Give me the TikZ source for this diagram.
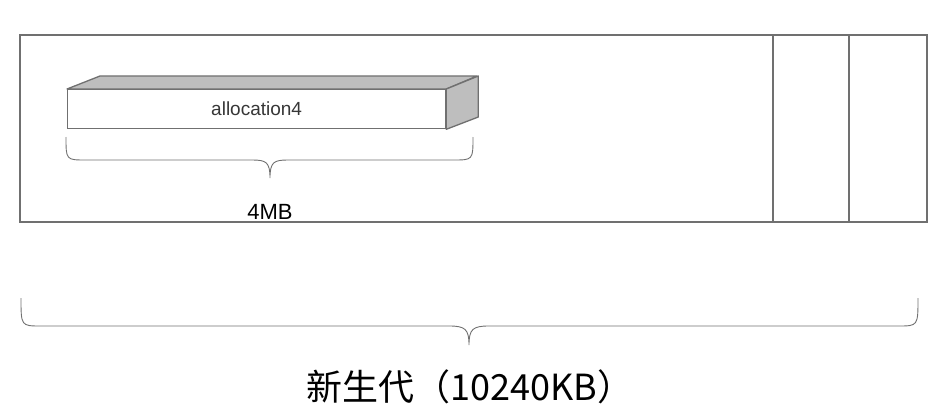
\documentclass[tikz,border=0pt]{standalone}
\usepackage{fontspec}
\setmainfont{Liberation Sans}
\newfontfamily\cjk{Noto Sans CJK SC}
\definecolor{linegray}{RGB}{112,112,112}
\definecolor{facegray}{RGB}{190,190,190}
\definecolor{txtgray}{RGB}{55,55,55}
\tikzset{
  frame/.style={draw=linegray, line width=1.5pt},
  facebox/.style={draw=linegray, line width=1.3pt, fill=facegray, line join=round},
  brace/.style={draw=linegray, line width=0.9pt},
}
\begin{document}
\begin{tikzpicture}[x=1pt,y=-1pt]
\useasboundingbox (0,0) rectangle (948,420);
% outer frame
\coordinate (tl) at (20,35);
\coordinate (br) at (927,222);
\draw[frame] (tl) rectangle (br);
\coordinate (d1t) at (773,35); \coordinate (d1b) at (773,222);
\coordinate (d2t) at (849,35); \coordinate (d2b) at (849,222);
\draw[frame] (d1t) -- (d1b);
\draw[frame] (d2t) -- (d2b);
% 3D box
\node[draw=linegray, line width=1.3pt, fill=white, minimum width=378pt, minimum height=39pt, inner sep=0pt, anchor=north west,
  text=txtgray, font=\fontsize{19}{22}\selectfont] (alloc) at (67,89) {allocation4};
\draw[facebox] (alloc.north west) -- ++(33,-13) -- ++(377,0) -- (alloc.north east) -- cycle;
\draw[facebox] (alloc.north east) -- ++(32,-13) -- ++(0,41) -- (alloc.south east) -- cycle;
% small brace
\draw[brace] (66,137) .. controls (66,160) and (66,160) .. (86,160) -- (252,160)
  .. controls (266,160) and (270,162) .. (270,178)
  .. controls (270,162) and (274,160) .. (288,160) -- (453,160)
  .. controls (473,160) and (473,160) .. (473,137);
\node[font=\fontsize{22}{26}\selectfont] (mb) at (270,212) {4MB};
% big brace
\draw[brace] (21,298) .. controls (21,326) and (21,326) .. (41,326) -- (449,326)
  .. controls (465,326) and (469,329) .. (469,345)
  .. controls (469,329) and (473,326) .. (489,326) -- (898,326)
  .. controls (918,326) and (918,326) .. (918,298);
\node[font=\cjk\fontsize{36}{40}\selectfont] (gen) at (470,387) {新生代（10240KB）};
\end{tikzpicture}
\end{document}
